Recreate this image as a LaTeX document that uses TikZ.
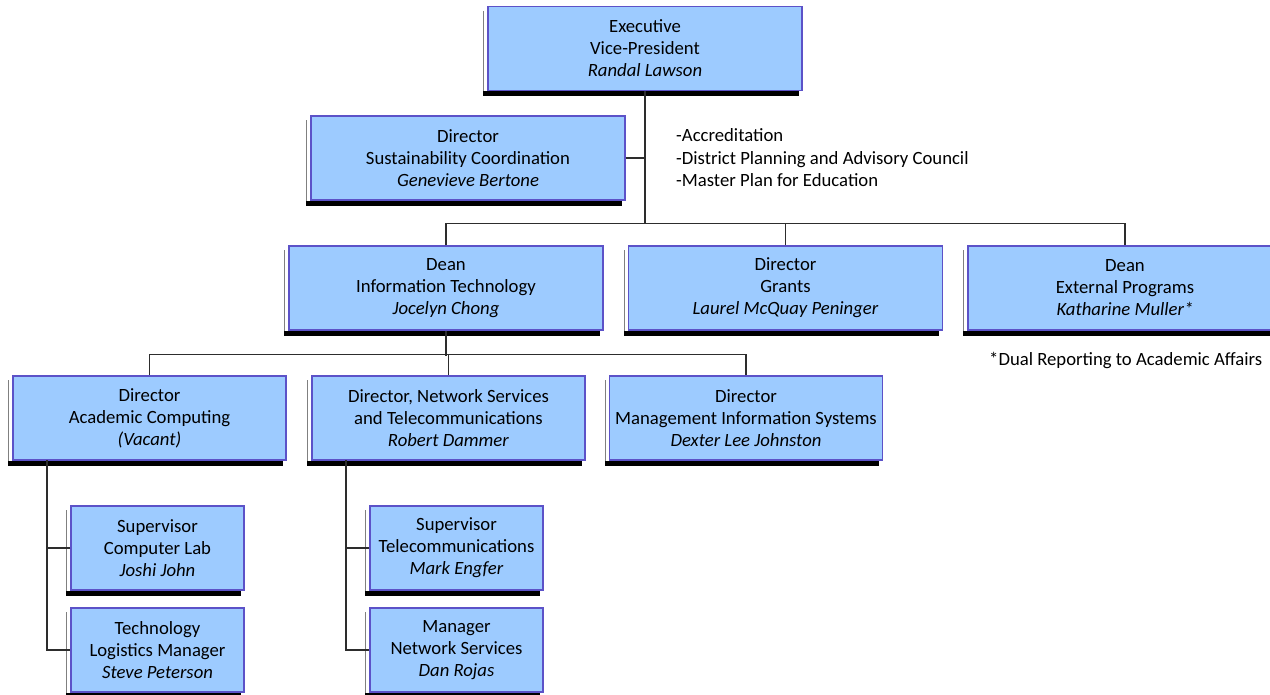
\documentclass[tikz,border=0pt]{standalone}
\usepackage{fontspec}
\setmainfont{Carlito}
\usetikzlibrary{positioning,calc,backgrounds}
\definecolor{boxfill}{RGB}{157,203,255}
\definecolor{boxline}{RGB}{92,82,200}
\definecolor{linkgray}{RGB}{45,45,45}
\tikzset{
    post/.style = {draw=boxline, line width=1.4pt, fill=boxfill, align=center,
                   inner sep=0pt, minimum height=84pt, font=\fontsize{18.7}{22}\selectfont},
    widepost/.style = {post, minimum width=314pt},
    midpost/.style = {post, minimum width=273pt},
    smallpost/.style = {post, minimum width=173pt},
    link/.style = {draw=linkgray, line width=1.2pt},
    note/.style = {align=left, anchor=west, inner sep=0pt, font=\fontsize{18.7}{22.5}\selectfont},
    shadowbar/.style = {fill=black},
    shadowedge/.style = {draw=gray, line width=0.6pt}
}

\begin{document}
\begin{tikzpicture}[x=1pt, y=-1pt]
                \useasboundingbox (0,0) rectangle (1270,694);
                % top
                \node[widepost] (exec) at (645,48.5) {Executive\\Vice-President\\\textit{Randal Lawson}};
                \node[widepost] (sust) at (468,158) {Director\\Sustainability Coordination\\\textit{Genevieve Bertone}};
                \node[note] (duties) at (676,158) {-Accreditation\\-District Planning and Advisory Council\\-Master Plan for Education};
                % deans and directors
                \node[widepost] (deanit) at (446,288) {Dean\\Information Technology\\\textit{Jocelyn Chong}};
                \node[widepost] (grants) at (785.5,288) {Director\\Grants\\\textit{Laurel McQuay Peninger}};
                \node[widepost] (extern) at (1125,288) {Dean\\External Programs\\\textit{Katharine Muller*}};
                \node[note] (dual) at (989,360) {*Dual Reporting to Academic Affairs};
                % information technology
                \node[midpost] (acad) at (149.5,418) {Director\\Academic Computing\\\textit{(Vacant)}};
                \node[midpost] (netw) at (448.5,418) {Director, Network Services\\and Telecommunications\\\textit{Robert Dammer}};
                \node[midpost] (mis) at (746,418) {Director\\Management Information Systems\\\textit{Dexter Lee Johnston}};
                \node[smallpost] (complab) at (157.5,548) {Supervisor\\Computer Lab\\\textit{Joshi John}};
                \node[smallpost] (techlog) at (157.5,650) {Technology\\Logistics Manager\\\textit{Steve Peterson}};
                \node[smallpost] (telecom) at (456.5,548) {Supervisor\\Telecommunications\\\textit{Mark Engfer}};
                \node[smallpost] (netman) at (456.5,650) {Manager\\Network Services\\\textit{Dan Rojas}};
                % connectors
                \coordinate (bus) at (645,224);
                \draw[link] (exec.south) -- (bus);
                \draw[link] (sust.east) -- (sust.east -| exec.south);
                \draw[link] (deanit.north) -- ++(0,-22) -| (extern.north);
                \draw[link] (grants.north) -- (grants.north |- bus);
                \draw[link] (deanit.south) -- ++(0,25);
                \draw[link] (acad.north) -- ++(0,-21) -| (mis.north);
                \draw[link] (netw.north) -- ++(0,-21);
                \coordinate (acadtrunk) at (47,460);
                \coordinate (netwtrunk) at (346,460);
                \draw[link] (acadtrunk) |- (techlog.west);
                \draw[link] (complab.west) -- (complab.west -| acadtrunk);
                \draw[link] (netwtrunk) |- (netman.west);
                \draw[link] (telecom.west) -- (telecom.west -| netwtrunk);
                \begin{scope}[on background layer]
                    \foreach \n in {exec,sust,deanit,grants,extern,acad,netw,mis,complab,techlog,telecom,netman}{
                        \fill[shadowbar] ($(\n.south west)+(-4,0)$) rectangle ($(\n.south east)+(-4,5)$);
                        \draw[shadowedge] ($(\n.north west)+(-4,5)$) -- ($(\n.south west)+(-4,0)$);
                    }
                \end{scope}
\end{tikzpicture}
\end{document}
